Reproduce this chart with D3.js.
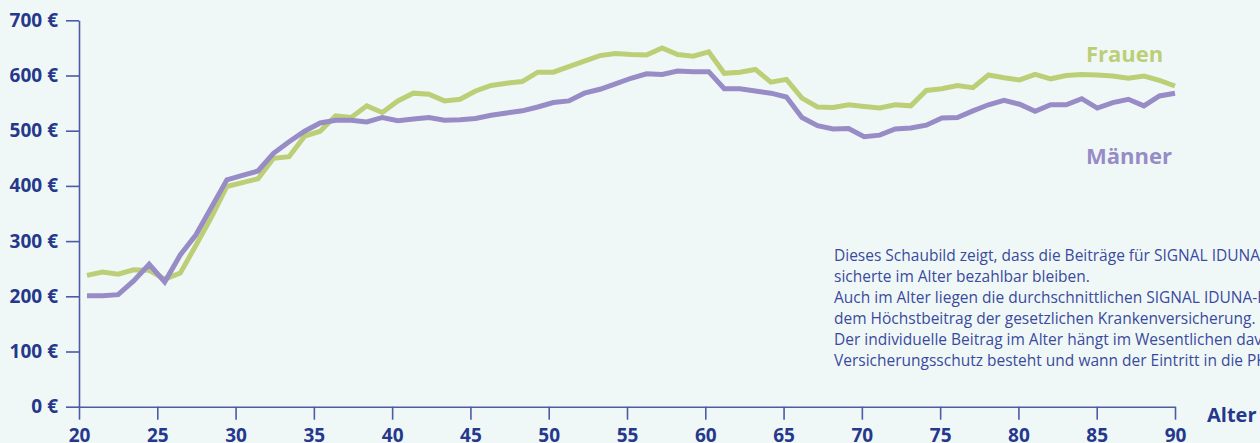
<!DOCTYPE html>
<html>
<head>
<meta charset="utf-8">
<script src="https://cdn.jsdelivr.net/npm/d3@7"></script>
<style>
  html, body { margin: 0; padding: 0; background: #f0f8f7; overflow: hidden; }
  svg { display: block; }
</style>
</head>
<body>
<div id="container"></div>
<script>
/**
 * CONSTANTS AND GLOBALS
 * */
const width = 1260,
  height = 443;

const bg = "#f0f8f7",
  axisColor = "#4b5ba6",
  labelColor = "#25388c",
  textColor = "#3a4a9e",
  greenColor = "#bccf77",
  purpleColor = "#978cc5";

// ages (Alter)
const ages = [20, 21, 22, 23, 24, 25, 26, 27, 28, 29,
  30, 31, 32, 33, 34, 35, 36, 37, 38, 39,
  40, 41, 42, 43, 44, 45, 46, 47, 48, 49,
  50, 51, 52, 53, 54, 55, 56, 57, 58, 59,
  60, 61, 62, 63, 64, 65, 66, 67, 68, 69,
  70, 71, 72, 73, 74, 75, 76, 77, 78, 79,
  80, 81, 82, 83, 84, 85, 86, 87, 88, 89, 90];

// monthly contribution in euro
const frauen = [238, 244, 240, 248, 247, 231, 242, 292, 343, 399,
  406, 413, 450, 453, 490, 499, 527, 524, 545, 533,
  554, 568, 566, 554, 557, 572, 582, 586, 589, 606,
  606, 616, 626, 636, 640, 638, 637, 650, 638, 635,
  643, 604, 606, 611, 588, 593, 559, 543, 542, 547,
  544, 541, 547, 545, 573, 576, 582, 578, 601, 596,
  592, 602, 594, 600, 602, 601, 599, 595, 599, 591, 581];

const maenner = [201, 201, 203, 228, 258, 226, 275, 311, 361, 411,
  419, 427, 459, 480, 499, 514, 519, 519, 516, 524,
  518, 521, 524, 519, 520, 522, 528, 532, 536, 543,
  551, 554, 568, 575, 585, 595, 603, 602, 608, 607,
  607, 576, 576, 572, 568, 561, 524, 509, 503, 504,
  489, 492, 503, 505, 510, 523, 524, 536, 547, 555,
  548, 535, 547, 547, 558, 541, 551, 557, 545, 563, 568];

const xTicks = [20, 25, 30, 35, 40, 45, 50, 55, 60, 65, 70, 75, 80, 85, 90];
const yTicks = [0, 100, 200, 300, 400, 500, 600, 700];

const seriesNames = ["Frauen", "Männer"];

const infoLines = [
  "Dieses Schaubild zeigt, dass die Beiträge für SIGNAL IDUNA-Ver-",
  "sicherte im Alter bezahlbar bleiben.",
  "Auch im Alter liegen die durchschnittlichen SIGNAL IDUNA-Beiträge unter",
  "dem Höchstbeitrag der gesetzlichen Krankenversicherung.",
  "Der individuelle Beitrag im Alter hängt im Wesentlichen davon ab, wie lange der",
  "Versicherungsschutz besteht und wann der Eintritt in die PKV erfolgte."
];

/*** INIT ***/
const svg = d3.select("#container")
  .append("svg")
  .attr("width", width)
  .attr("height", height);

svg.append("rect")
  .attr("width", width)
  .attr("height", height)
  .attr("fill", bg);

const xScale = d3.scaleLinear().domain([20, 90]).range([79, 1175]);
// the curves start a little right of the axis
const xLine = d3.scaleLinear().domain([20, 90]).range([87, 1175]);
const yScale = d3.scaleLinear().domain([0, 700]).range([406.7, 20.3]);

// y axis
const yAxis = svg.append("g")
  .attr("transform", `translate(${xScale(20)},0)`)
  .attr("color", axisColor)
  .call(d3.axisLeft(yScale)
    .tickValues(yTicks)
    .tickSize(13)
    .tickSizeOuter(0)
    .tickPadding(8)
    .tickFormat(d => d + " €"));

// x axis
const xAxis = svg.append("g")
  .attr("transform", `translate(0,${yScale(0)})`)
  .attr("color", axisColor)
  .call(d3.axisBottom(xScale)
    .tickValues(xTicks)
    .tickSize(13)
    .tickSizeOuter(0)
    .tickPadding(9));

[yAxis, xAxis].forEach(g => {
  g.selectAll("path, line").attr("stroke-width", 1.6);
  g.selectAll("text")
    .attr("fill", labelColor)
    .style("font-family", "'Open Sans', sans-serif")
    .style("font-size", "19px")
    .style("font-weight", "bold");
});

svg.append("text")
  .text("Alter")
  .attr("x", 1207)
  .attr("y", 422)
  .attr("fill", labelColor)
  .style("font-family", "'Open Sans', sans-serif")
  .style("font-size", "20px")
  .style("font-weight", "bold");

// lines
const lineGen = d3.line()
  .x((d, i) => xLine(ages[i]))
  .y(d => yScale(d));

svg.append("path")
  .datum(frauen)
  .attr("d", lineGen)
  .attr("fill", "none")
  .attr("stroke", greenColor)
  .attr("stroke-width", 5);

svg.append("path")
  .datum(maenner)
  .attr("d", lineGen)
  .attr("fill", "none")
  .attr("stroke", purpleColor)
  .attr("stroke-width", 5);

// series labels
svg.selectAll(".seriesLabel")
  .data(seriesNames)
  .join("text")
  .attr("class", "seriesLabel")
  .attr("x", 1086)
  .attr("y", (_, i) => i === 0 ? 61.5 : 164)
  .attr("fill", (_, i) => i === 0 ? greenColor : purpleColor)
  .style("font-family", "'Open Sans', sans-serif")
  .style("font-size", "22px")
  .style("font-weight", "bold")
  .text(d => d);

// info text
svg.append("text")
  .attr("fill", textColor)
  .style("font-family", "'Open Sans', sans-serif")
  .style("font-size", "15.5px")
  .selectAll("tspan")
  .data(infoLines)
  .join("tspan")
  .attr("x", 834)
  .attr("y", (_, i) => 260.5 + i * 21.1)
  .text(d => d);
</script>
</body>
</html>
